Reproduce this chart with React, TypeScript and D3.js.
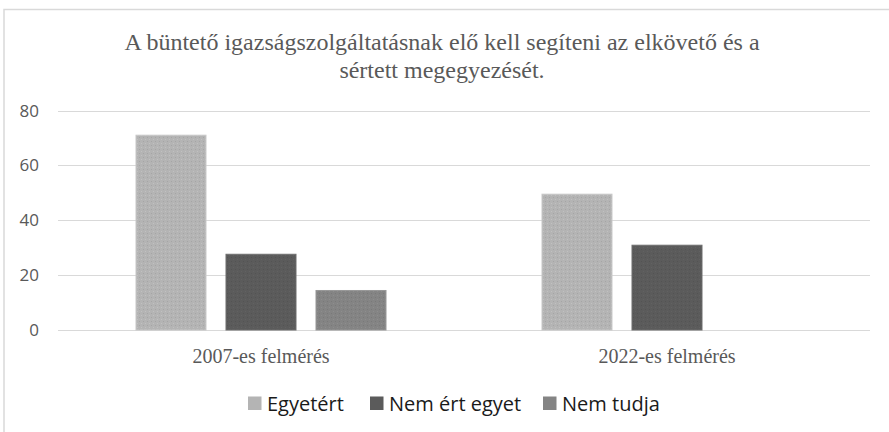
import React, { useRef, useEffect } from "react";
import * as d3 from "d3";

const titleLines = [
  "A büntető igazságszolgáltatásnak elő kell segíteni az elkövető és a",
  "sértett megegyezését.",
];
const categories = ["2007-es felmérés", "2022-es felmérés"];
const seriesNames = ["Egyetért", "Nem ért egyet", "Nem tudja"];
const egyetert = [71, 49.5];
const nemErtEgyet = [27.6, 30.9];
const nemTudja = [14.4, 0];
const yTicks = [0, 20, 40, 60, 80];

const seriesValues = [egyetert, nemErtEgyet, nemTudja];
const colors = ["#b4b4b4", "#5b5b5b", "#848484"];
const strokes = ["#c8c8c8", "#6e6e6e", "#989898"];

const W = 889;
const H = 432;

const App = () => {
  const ref = useRef<SVGSVGElement>(null);

  useEffect(() => {
    if (!ref.current) return;
    const svg = d3.select(ref.current);
    svg.selectAll("*").remove();

    const left = 58;
    const right = 870;
    const y = d3.scaleLinear().domain([0, 80]).range([330, 110.5]);

    // dotted texture like the original
    const defs = svg.append("defs");
    colors.forEach((c, i) => {
      const p = defs
        .append("pattern")
        .attr("id", `tex${i}`)
        .attr("width", 4)
        .attr("height", 4)
        .attr("patternUnits", "userSpaceOnUse");
      p.append("rect").attr("width", 4).attr("height", 4).attr("fill", c);
      p.append("rect")
        .attr("x", 1)
        .attr("y", 1)
        .attr("width", 1)
        .attr("height", 1)
        .attr("fill", d3.color(c)!.darker(0.25).formatHex());
      p.append("rect")
        .attr("x", 3)
        .attr("y", 3)
        .attr("width", 1)
        .attr("height", 1)
        .attr("fill", d3.color(c)!.brighter(0.2).formatHex());
    });

    svg
      .append("rect")
      .attr("width", W)
      .attr("height", H)
      .attr("fill", "#fff");

    // chart frame (only top/left visible in the crop)
    svg
      .append("path")
      .attr("d", `M4,${H + 2}V9.5H${W + 2}`)
      .attr("fill", "none")
      .attr("stroke", "#d9d9d9")
      .attr("stroke-width", 1.5);

    svg
      .append("g")
      .selectAll("text")
      .data(titleLines)
      .enter()
      .append("text")
      .attr("x", 442)
      .attr("y", (d, i) => 50 + i * 28)
      .attr("text-anchor", "middle")
      .attr("font-family", "'Liberation Serif', 'Times New Roman', serif")
      .attr("font-size", 24)
      .attr("fill", "#595959")
      .text((d) => d);

    // gridlines
    svg
      .append("g")
      .selectAll("line")
      .data(yTicks)
      .enter()
      .append("line")
      .attr("x1", left)
      .attr("x2", right)
      .attr("y1", (d) => Math.round(y(d)) + 0.5)
      .attr("y2", (d) => Math.round(y(d)) + 0.5)
      .attr("stroke", "#d9d9d9")
      .attr("stroke-width", 1);

    svg
      .append("g")
      .selectAll("text")
      .data(yTicks)
      .enter()
      .append("text")
      .attr("x", 39)
      .attr("y", (d) => y(d) + 6)
      .attr("text-anchor", "end")
      .attr("font-family", "'Open Sans', 'Liberation Sans', sans-serif")
      .attr("font-size", 17)
      .attr("fill", "#595959")
      .text((d) => d);

    const x0 = d3.scaleBand().domain(categories).range([left, right]);
    const x1 = d3
      .scaleBand()
      .domain(seriesNames)
      .range([0, x0.bandwidth()])
      .paddingInner(19 / 90)
      .paddingOuter(0.861);

    const groups = svg
      .append("g")
      .selectAll("g")
      .data(categories)
      .enter()
      .append("g")
      .attr("transform", (d) => `translate(${x0(d)},0)`);

    groups
      .selectAll("rect")
      .data((d, ci) =>
        seriesNames.map((s, si) => ({ s, si, v: seriesValues[si][ci] }))
      )
      .enter()
      .filter((d) => d.v > 0)
      .append("rect")
      .attr("x", (d) => x1(d.s)! + 0.5)
      .attr("y", (d) => y(d.v))
      .attr("width", x1.bandwidth() - 1)
      .attr("height", (d) => y(0) - y(d.v))
      .attr("fill", (d) => `url(#tex${d.si})`)
      .attr("stroke", (d) => strokes[d.si])
      .attr("stroke-width", 1);

    svg
      .append("g")
      .selectAll("text")
      .data(categories)
      .enter()
      .append("text")
      .attr("x", (d) => x0(d)! + x0.bandwidth() / 2)
      .attr("y", 363)
      .attr("text-anchor", "middle")
      .attr("font-family", "'Liberation Serif', 'Times New Roman', serif")
      .attr("font-size", 20)
      .attr("fill", "#595959")
      .text((d) => d);

    // legend
    const legendX = [248, 370, 543];
    const lg = svg
      .append("g")
      .selectAll("g")
      .data(seriesNames)
      .enter()
      .append("g")
      .attr("transform", (d, i) => `translate(${legendX[i]},0)`);
    lg.append("rect")
      .attr("x", 0)
      .attr("y", 396.5)
      .attr("width", 13.5)
      .attr("height", 13.5)
      .attr("fill", (d, i) => colors[i]);
    lg.append("text")
      .attr("x", 19)
      .attr("y", 410.5)
      .attr("font-family", "'Open Sans', 'Liberation Sans', sans-serif")
      .attr("font-size", 20)
      .attr("fill", "#1a1a1a")
      .text((d) => d);
  }, []);

  return (
    <svg
      ref={ref}
      width={W}
      height={H}
      style={{ position: "absolute", left: 0, top: 0 }}
    />
  );
};

export default App;
